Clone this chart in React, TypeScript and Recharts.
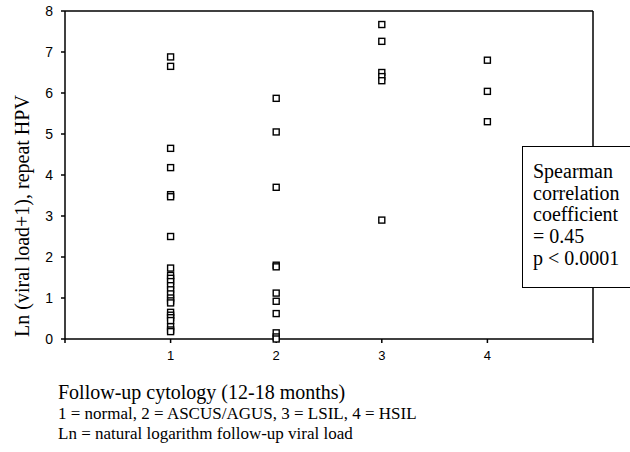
import { ScatterChart, Scatter, XAxis, YAxis, ReferenceLine } from 'recharts';

// Ln(viral load + 1) values, one array per cytology group
const normalValues = [6.88, 6.65, 4.65, 4.18, 3.52, 3.47, 2.5, 1.73, 1.55, 1.48, 1.4, 1.3, 1.2, 1.1, 1.0, 0.93, 0.88, 0.65, 0.58, 0.52, 0.45, 0.3, 0.22, 0.18];
const ascusValues = [5.87, 5.05, 3.7, 1.8, 1.76, 1.12, 0.92, 0.62, 0.15, 0.05, 0.0];
const lsilValues = [7.67, 7.26, 6.5, 6.4, 6.3, 2.9];
const hsilValues = [6.8, 6.04, 5.3];

const groups = [normalValues, ascusValues, lsilValues, hsilValues];
const xTicks = [0, 1, 2, 3, 4, 5];
const yTicks = [0, 1, 2, 3, 4, 5, 6, 7, 8];
const statLines = ['Spearman', 'correlation', 'coefficient', '= 0.45', 'p < 0.0001'];

const points = groups.flatMap((vals, i) => vals.map((y) => ({ x: i + 1, y })));

const serif = '"Liberation Serif", "Times New Roman", serif';
const sans = '"Liberation Sans", Arial, sans-serif';

function HollowSquare(props: any) {
  const { cx, cy } = props;
  return <rect x={cx - 3} y={cy - 3} width={6} height={6} fill="#fff" stroke="#000" strokeWidth={1.4} />;
}

export default function App() {
  return (
    <div style={{ position: 'absolute', left: 0, top: 0, width: 630, height: 452, background: '#fff' }}>
      <ScatterChart width={630} height={452} margin={{ top: 11, right: 37, bottom: 83, left: 5 }}>
        <XAxis
          type="number"
          dataKey="x"
          domain={[0, 5]}
          ticks={xTicks}
          tickFormatter={(v: number) => (v === 0 || v === 5 ? '' : String(v))}
          height={30}
          stroke="#000"
          strokeWidth={1.5}
          tickSize={4}
          tickMargin={8}
          tick={{ fill: '#000', fontSize: 13, fontFamily: sans }}
        />
        <YAxis
          type="number"
          dataKey="y"
          domain={[0, 8]}
          ticks={yTicks}
          width={60}
          stroke="#000"
          strokeWidth={1.5}
          tickSize={4}
          tickMargin={8}
          tick={{ fill: '#000', fontSize: 14, fontFamily: sans }}
        />
        <ReferenceLine y={8} stroke="#000" strokeWidth={1.5} />
        <ReferenceLine x={5} stroke="#000" strokeWidth={1.5} />
        <Scatter data={points} shape={HollowSquare} isAnimationActive={false} />
      </ScatterChart>

      <div
        style={{
          position: 'absolute',
          left: 22,
          top: 216,
          transform: 'translate(-50%, -50%) rotate(-90deg)',
          whiteSpace: 'nowrap',
          fontFamily: serif,
          fontSize: 20,
        }}
      >
        Ln (viral load+1), repeat HPV
      </div>

      <div
        style={{
          position: 'absolute',
          left: 522,
          top: 146,
          width: 120,
          height: 142,
          border: '1px solid #000',
          background: '#fff',
          boxSizing: 'border-box',
          padding: '14px 0 0 10px',
          fontFamily: serif,
          fontSize: 20,
          lineHeight: '21.7px',
        }}
      >
        {statLines.map((t) => (
          <div key={t}>{t}</div>
        ))}
      </div>

      <div style={{ position: 'absolute', left: 58, top: 380, fontFamily: serif, whiteSpace: 'nowrap' }}>
        <div style={{ fontSize: 20, lineHeight: '24px' }}>Follow-up cytology (12-18 months)</div>
        <div style={{ fontSize: 17, lineHeight: '20px' }}>1 = normal, 2 = ASCUS/AGUS, 3 = LSIL, 4 = HSIL</div>
        <div style={{ fontSize: 17, lineHeight: '20px' }}>Ln = natural logarithm follow-up viral load</div>
      </div>
    </div>
  );
}
